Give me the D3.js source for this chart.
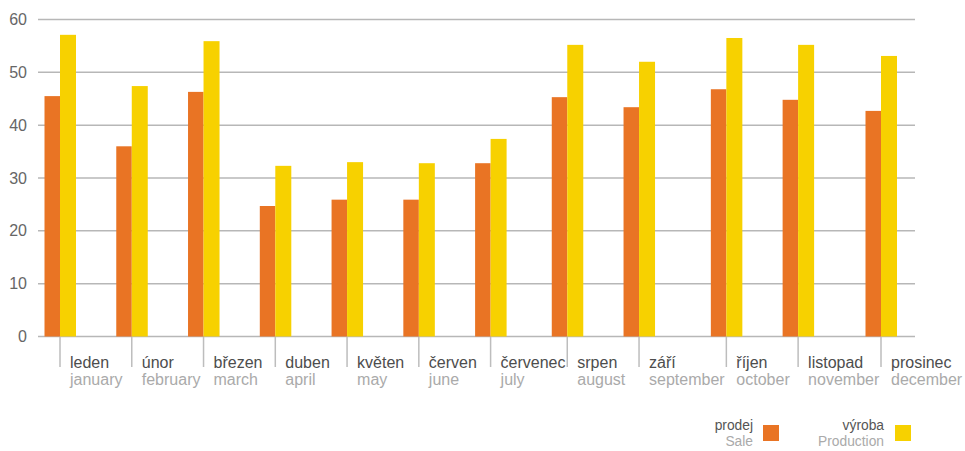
<!DOCTYPE html>
<html>
<head>
<meta charset="utf-8">
<script src="https://cdn.jsdelivr.net/npm/d3@7"></script>
<style>
  html, body { margin: 0; padding: 0; background: #fff; }
  svg { display: block; font-family: "Liberation Sans", Arial, Helvetica, sans-serif; }
</style>
</head>
<body>
<svg id="chart" width="965" height="451"></svg>
<script>
// Monthly sales and production
const monthsCz = ["leden", "únor", "březen", "duben", "květen", "červen",
                  "červenec", "srpen", "září", "říjen", "listopad", "prosinec"];
const monthsEn = ["january", "february", "march", "april", "may", "june",
                  "july", "august", "september", "october", "november", "december"];
const sale       = [45.5, 36.0, 46.3, 24.7, 25.9, 25.9, 32.8, 45.3, 43.4, 46.8, 44.8, 42.7];
const production = [57.1, 47.4, 55.9, 32.3, 33.0, 32.8, 37.4, 55.2, 52.0, 56.5, 55.2, 53.1];
const yTicks = [0, 10, 20, 30, 40, 50, 60];
const seriesNames = [
  { cz: "prodej", en: "Sale" },
  { cz: "výroba", en: "Production" }
];

const colors = { sale: "#e97424", production: "#f7d100" };
const gridColor = "#b7b7b7";

const svg = d3.select("#chart");
const plot = { left: 38, right: 915, top: 19.5, bottom: 336.5 };

const y = d3.scaleLinear().domain([0, 60]).range([plot.bottom, plot.top]);

// Gridlines and y labels
svg.append("g").selectAll("line").data(yTicks).join("line")
  .attr("x1", plot.left).attr("x2", plot.right)
  .attr("y1", d => y(d)).attr("y2", d => y(d))
  .attr("stroke", gridColor).attr("stroke-width", 1.5);

svg.append("g").selectAll("text").data(yTicks).join("text")
  .attr("x", 27).attr("y", d => y(d))
  .attr("text-anchor", "end").attr("dominant-baseline", "central")
  .attr("font-size", 16).attr("fill", "#666")
  .text(d => d);

// Category slots: each month takes room for its wider label, with a minimum step
const measure = svg.append("text").attr("font-size", 16).attr("visibility", "hidden");
const widthOf = s => { measure.text(s); return measure.node().getComputedTextLength(); };
const slotW = monthsCz.map((m, i) => Math.max(Math.max(widthOf(m), widthOf(monthsEn[i])) + 12, 72));
measure.remove();
const offsets = [0];
for (let i = 0; i < monthsCz.length - 1; i++) offsets.push(offsets[i] + slotW[i]);

const x = d3.scaleLinear()
  .domain([0, offsets[offsets.length - 1]])
  .range([60, 881]);

const barW = 15.5;

// Separators under the axis
svg.append("g").selectAll("line").data(offsets).join("line")
  .attr("x1", d => x(d)).attr("x2", d => x(d))
  .attr("y1", plot.bottom).attr("y2", 367)
  .attr("stroke", "#bdbdbd").attr("stroke-width", 1.5);

// Bars
svg.append("g").selectAll("rect").data(sale).join("rect")
  .attr("x", (d, i) => x(offsets[i]) - barW)
  .attr("y", d => y(d))
  .attr("width", barW)
  .attr("height", d => y(0) - y(d))
  .attr("fill", colors.sale);

svg.append("g").selectAll("rect").data(production).join("rect")
  .attr("x", (d, i) => x(offsets[i]))
  .attr("y", d => y(d))
  .attr("width", barW + 0.5)
  .attr("height", d => y(0) - y(d))
  .attr("fill", colors.production);

// Month labels
const labels = svg.append("g").selectAll("g").data(monthsCz).join("g")
  .attr("transform", (d, i) => `translate(${x(offsets[i]) + 10},0)`);
labels.append("text").attr("y", 367.5).attr("font-size", 16).attr("fill", "#4d4d4d")
  .text(d => d);
labels.append("text").attr("y", 384.5).attr("font-size", 16).attr("fill", "#aaaaaa")
  .text((d, i) => monthsEn[i]);

// Legend
const legendItems = [
  { name: seriesNames[0], color: colors.sale, right: 753, box: 763 },
  { name: seriesNames[1], color: colors.production, right: 884, box: 895 }
];
const lg = svg.append("g").selectAll("g").data(legendItems).join("g");
lg.append("text").attr("x", d => d.right).attr("y", 430).attr("text-anchor", "end")
  .attr("font-size", 13.8).attr("fill", "#555").text(d => d.name.cz);
lg.append("text").attr("x", d => d.right).attr("y", 445.5).attr("text-anchor", "end")
  .attr("font-size", 13.8).attr("fill", "#aaaaaa").text(d => d.name.en);
lg.append("rect").attr("x", d => d.box).attr("y", 425).attr("width", 16).attr("height", 16)
  .attr("fill", d => d.color);
</script>
</body>
</html>
